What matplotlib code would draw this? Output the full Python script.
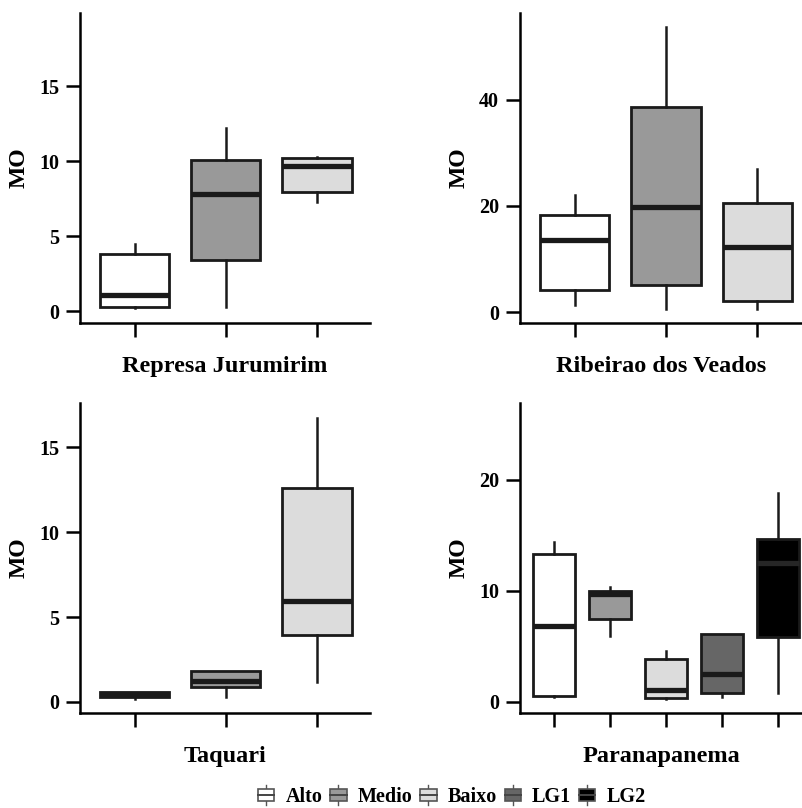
import matplotlib
matplotlib.use("Agg")
import matplotlib.pyplot as plt
from matplotlib.patches import Patch, Rectangle
from matplotlib.lines import Line2D
from matplotlib.legend_handler import HandlerBase

plt.rcParams.update({
    "font.family": ["Liberation Serif", "DejaVu Serif"],
    "font.weight": "bold",
    "axes.labelweight": "bold",
})

# group names and fill colours
groups = ["Alto", "Medio", "Baixo", "LG1", "LG2"]
group_colors = ["#ffffff", "#999999", "#dcdcdc", "#666666", "#000000"]

# panel titles (shown as x labels)
panel_titles = ["Represa Jurumirim", "Ribeirao dos Veados", "Taquari", "Paranapanema"]

# box statistics per panel: median, q1, q3, lower whisker, upper whisker
rj_med = [1.05, 7.8, 9.7]
rj_q1 = [0.3, 3.4, 7.95]
rj_q3 = [3.85, 10.1, 10.2]
rj_lo = [0.2, 0.3, 7.3]
rj_hi = [4.5, 12.2, 10.3]

rv_med = [13.6, 19.8, 12.3]
rv_q1 = [4.2, 5.1, 2.1]
rv_q3 = [18.3, 38.7, 20.6]
rv_lo = [1.3, 0.6, 0.6]
rv_hi = [22.1, 53.8, 27.0]

tq_med = [0.45, 1.25, 5.95]
tq_q1 = [0.3, 0.9, 3.95]
tq_q3 = [0.6, 1.8, 12.6]
tq_lo = [0.2, 0.3, 1.2]
tq_hi = [0.6, 1.8, 16.7]

pp_med = [6.8, 9.7, 1.1, 2.5, 12.5]
pp_q1 = [0.5, 7.5, 0.35, 0.8, 5.8]
pp_q3 = [13.3, 10.0, 3.9, 6.1, 14.7]
pp_lo = [0.4, 5.9, 0.3, 0.4, 0.8]
pp_hi = [14.4, 10.3, 4.6, 6.1, 18.8]

panels = [
    (rj_med, rj_q1, rj_q3, rj_lo, rj_hi, [0, 5, 10, 15], (-0.8, 19.9)),
    (rv_med, rv_q1, rv_q3, rv_lo, rv_hi, [0, 20, 40], (-2.1, 56.4)),
    (tq_med, tq_q1, tq_q3, tq_lo, tq_hi, [0, 5, 10, 15], (-0.65, 17.6)),
    (pp_med, pp_q1, pp_q3, pp_lo, pp_hi, [0, 10, 20], (-1.0, 26.9)),
]
x_limits = [(0.40, 3.58), (0.40, 3.50), (0.40, 3.58), (0.39, 5.45)]

# axes rectangles in figure fraction
rects = [
    [0.0996, 0.600, 0.361, 0.384],
    [0.6476, 0.600, 0.3524, 0.384],
    [0.0996, 0.1176, 0.361, 0.3836],
    [0.6476, 0.1176, 0.3524, 0.3836],
]

EDGE = "#1a1a1a"

fig = plt.figure(figsize=(8.03, 8.08), dpi=100)

for i, (med, q1, q3, lo, hi, yt, ylim) in enumerate(panels):
    ax = fig.add_axes(rects[i])
    n = len(med)
    stats = [{"med": med[k], "q1": q1[k], "q3": q3[k], "whislo": lo[k], "whishi": hi[k]}
             for k in range(n)]
    pos = list(range(1, n + 1))
    bp = ax.bxp(stats, positions=pos, widths=0.76, showfliers=False, showcaps=False,
                patch_artist=True,
                boxprops=dict(edgecolor=EDGE, linewidth=2.0),
                whiskerprops=dict(color=EDGE, linewidth=1.8),
                medianprops=dict(color="#1a1a1a", linewidth=3.8, solid_capstyle="butt"))
    for k, box in enumerate(bp["boxes"]):
        box.set_facecolor(group_colors[k])
    if n == 5:
        bp["medians"][4].set_color("#262626")
    ax.set_xlim(*x_limits[i])
    ax.set_ylim(*ylim)
    ax.set_yticks(yt)
    ax.set_xticks(pos)
    ax.set_xticklabels([])
    for s in ["top", "right"]:
        ax.spines[s].set_visible(False)
    for s in ["left", "bottom"]:
        ax.spines[s].set_linewidth(1.8)
    ax.tick_params(axis="both", direction="out", length=10, width=1.8, labelsize=14.5)
    ax.tick_params(axis="y", pad=5)
    for lab in ax.get_yticklabels():
        lab.set_fontweight("bold")
    ax.set_ylabel("MO", fontsize=17, labelpad=7)
    ax.set_xlabel(panel_titles[i], fontsize=17.5, labelpad=10)


class BoxIconHandler(HandlerBase):
    def create_artists(self, legend, orig_handle, xdescent, ydescent, width, height,
                       fontsize, trans):
        w = height * 1.15
        x0 = (width - w) / 2 - xdescent
        y0 = -ydescent
        whisk = Line2D([x0 + w / 2, x0 + w / 2], [y0 - height * 0.2, y0 + height * 1.2],
                       color="#555555", lw=1.0, transform=trans)
        rect = Rectangle((x0, y0 + height * 0.05), w, height * 0.9,
                         facecolor=orig_handle.get_facecolor(), edgecolor="#555555",
                         lw=1.2, transform=trans)
        med = Line2D([x0, x0 + w], [y0 + height / 2] * 2, color="#444444", lw=1.4,
                     transform=trans)
        return [whisk, rect, med]


handles = [Patch(facecolor=c, edgecolor="#555555") for c in group_colors]
fig.legend(handles, groups, handler_map={Patch: BoxIconHandler()},
           loc="center", bbox_to_anchor=(0.561, 0.0135), ncol=5, frameon=False,
           handlelength=1.1, handletextpad=0.4, columnspacing=0.25,
           prop={"weight": "bold", "size": 14.5})

fig.savefig("out.png", dpi=100)
